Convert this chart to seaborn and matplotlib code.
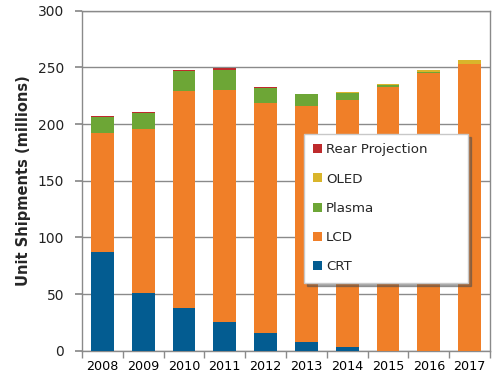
import numpy as np
import pandas as pd
import matplotlib
matplotlib.use("Agg")
import matplotlib.pyplot as plt
from matplotlib.patches import Patch
import seaborn as sns

# -----------------------------------------------------
# DATA (unit shipments, millions)
# -----------------------------------------------------
years = ["2008", "2009", "2010", "2011", "2012", "2013", "2014", "2015", "2016", "2017"]
crt = [87, 51, 38, 25.5, 16, 8, 3, 0, 0, 0]
lcd = [105.5, 145, 191, 204.5, 203, 207.5, 218.5, 232.5, 245, 253]
plasma = [13.5, 13.5, 17.5, 18, 13, 11, 6, 2, 0.7, 0]
oled = [0, 0, 0, 0, 0, 0.3, 0.5, 1, 2, 3.5]
rear = [1.2, 1, 1, 1.2, 1, 0, 0, 0, 0, 0]

series = ["CRT", "LCD", "Plasma", "OLED", "Rear Projection"]
colors = {
    "CRT": "#035C91",
    "LCD": "#F07F28",
    "Plasma": "#6DA636",
    "OLED": "#D9B52B",
    "Rear Projection": "#BE2A2C",
}

df = pd.DataFrame({"year": years, "CRT": crt, "LCD": lcd, "Plasma": plasma,
                   "OLED": oled, "Rear Projection": rear})
cum = df[series].cumsum(axis=1)

# -----------------------------------------------------
# PLOT
# -----------------------------------------------------
sns.set_theme(style="white")
plt.rcParams["font.family"] = ["DejaVu Sans"]

fig = plt.figure(figsize=(5.01, 3.77), dpi=100)
ax = fig.add_axes([0.1637, 0.0698, 0.8143, 0.9018])

# stacked bars: draw cumulative totals from the top layer down
for name in reversed(series):
    sns.barplot(x=df["year"], y=cum[name], color=colors[name], saturation=1,
                width=0.56, errorbar=None, ax=ax, zorder=3, linewidth=0)

grid_col = "#8A8A8A"
ax.set_ylim(0, 300)
ax.set_xlim(-0.5, 9.5)
ax.set_yticks(np.arange(0, 301, 50))
ax.yaxis.grid(True, color=grid_col, linewidth=1)
ax.set_axisbelow(True)
for s in ax.spines.values():
    s.set_color(grid_col)
    s.set_linewidth(1)

ax.set_xticks(np.arange(-0.5, 10, 1), minor=True)
ax.tick_params(axis="x", which="major", length=0, labelsize=9.2, pad=7, colors="black")
ax.tick_params(axis="x", which="minor", length=5, color=grid_col, direction="out", bottom=True)
ax.tick_params(axis="y", length=5, color=grid_col, direction="out", left=True,
               labelsize=10, pad=8, colors="black")
for t in ax.get_yticklabels():
    t.set_color("#222222")

ax.set_xlabel("")
ax.set_ylabel("Unit Shipments (millions)", fontsize=10.5, fontweight="bold", labelpad=5)

handles = [Patch(facecolor=colors[n], edgecolor="none") for n in reversed(series)]
leg = ax.legend(handles, list(reversed(series)), loc="upper left",
                bbox_to_anchor=(304 / 501, 1 - 134 / 377, 164 / 501, 0.0),
                bbox_transform=fig.transFigure, mode="expand",
                fontsize=9.6, frameon=True, shadow=True, fancybox=False,
                handlelength=0.65, handleheight=0.65, handletextpad=0.3,
                labelspacing=1.22, borderpad=0.7, borderaxespad=0)
leg.get_frame().set_edgecolor("#C8C8C8")
leg.get_frame().set_facecolor("white")
leg.get_frame().set_alpha(1)
leg.set_zorder(10)

fig.savefig("out.png", dpi=100)
